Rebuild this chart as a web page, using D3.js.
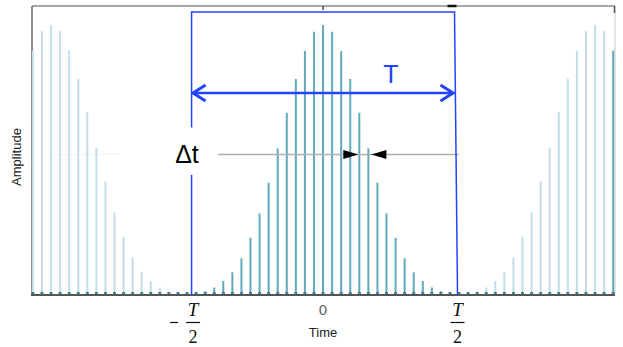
<!DOCTYPE html>
<html>
<head>
<meta charset="utf-8">
<script src="https://cdn.jsdelivr.net/npm/d3@7"></script>
<style>
  html, body { margin: 0; padding: 0; background: #fff; }
  svg { display: block; }
</style>
</head>
<body>
<svg id="chart" width="623" height="347"></svg>
<script>
// ---- data ----
const sampleIndex = d3.range(-32, 33); // stem indices n
const amplitudes = [
  0.905, 0.977, 1.000, 0.977, 0.905, 0.801, 0.677, 0.545, 0.419, 0.306, 0.216, 0.138, 0.086, 0.052, 0.028, 0.013, 0.006,   // n=-32..-16 (left alias)
  0.003,                                                                                                                   // n=-15
  0.006, 0.014, 0.028, 0.052, 0.084, 0.136, 0.212, 0.302, 0.416, 0.543, 0.675, 0.800, 0.904, 0.975,                      // n=-14..-1
  1.000,                                                                                                                   // n=0
  0.975, 0.904, 0.800, 0.675, 0.543, 0.416, 0.302, 0.212, 0.136, 0.084, 0.052, 0.028, 0.014, 0.006,                      // n=1..14
  0.003,                                                                                                                   // n=15
  0.006, 0.013, 0.028, 0.052, 0.086, 0.138, 0.216, 0.306, 0.419, 0.545, 0.677, 0.801, 0.905, 0.977, 1.000, 0.977, 0.905  // n=16..32 (right alias)
];
const stemGroup = sampleIndex.map(n => (Math.abs(n) <= 15 || n === 32) ? "main" : "alias");
const xTickLabels = [{ v: -14.5, sign: "\u2212" }, { v: 0, text: "0" }, { v: 14.5, sign: "" }];
const halfPeriod = 14.5;   // T/2 in sample units
const deltaLevel = 0.52;   // level of the Δt guide line
const arrowLevel = 0.748;  // level of the T arrow
const boxTop = 1.048;      // top of the T window

// ---- layout ----
const svg = d3.select("#chart");
const x = d3.scaleLinear().domain([-32.1, 32.2]).range([32, 615]);
const y = d3.scaleLinear().domain([0, 1]).range([295, 25]);
const frameTop = 6, base = y(0);
const mainColor = "#62a9bc", aliasColor = "#c2dee8", baseMark = "#3f8293";
const blue = "#2343ff";

const data = sampleIndex.map((n, i) => ({ n, a: amplitudes[i], g: stemGroup[i] }));

// frame
svg.append("line").attr("x1", 32).attr("x2", 615).attr("y1", frameTop).attr("y2", frameTop)
  .attr("stroke", "#8a8a8a").attr("stroke-width", 1.5);
svg.append("line").attr("x1", 32).attr("x2", 32).attr("y1", frameTop).attr("y2", base)
  .attr("stroke", "#666").attr("stroke-width", 1.5);
svg.append("line").attr("x1", 615).attr("x2", 615).attr("y1", frameTop).attr("y2", base)
  .attr("stroke", "#c8c8c8").attr("stroke-width", 1);
svg.append("line").attr("x1", 614.5).attr("x2", 614.5).attr("y1", frameTop).attr("y2", frameTop + 7)
  .attr("stroke", "#555").attr("stroke-width", 1.5);
svg.append("line").attr("x1", x(0)).attr("x2", x(0)).attr("y1", frameTop).attr("y2", frameTop + 4)
  .attr("stroke", "#444").attr("stroke-width", 1.5);
svg.append("line").attr("x1", x(halfPeriod) - 7).attr("x2", x(halfPeriod) + 2).attr("y1", frameTop).attr("y2", frameTop)
  .attr("stroke", "#111").attr("stroke-width", 2.5);

// faint guide on left
svg.append("line").attr("x1", 55).attr("x2", 120).attr("y1", y(deltaLevel)).attr("y2", y(deltaLevel))
  .attr("stroke", "#f2f2f2").attr("stroke-width", 1);

// stems
svg.append("g").selectAll("line").data(data).join("line")
  .attr("x1", d => x(d.n)).attr("x2", d => x(d.n))
  .attr("y1", base).attr("y2", d => y(d.a))
  .attr("stroke", d => d.g === "main" ? mainColor : aliasColor)
  .attr("stroke-width", 2);
svg.append("g").selectAll("rect").data(data).join("rect")
  .attr("x", d => x(d.n) - 1.5).attr("y", base - 3).attr("width", 3).attr("height", 3)
  .attr("fill", baseMark);

// baseline
svg.append("line").attr("x1", 31).attr("x2", 615).attr("y1", base).attr("y2", base)
  .attr("stroke", "#555").attr("stroke-width", 2);

// Δt guide line and arrowheads
svg.append("line").attr("x1", 218).attr("x2", x(halfPeriod) + 4)
  .attr("y1", y(deltaLevel)).attr("y2", y(deltaLevel))
  .attr("stroke", "#b0b0b0").attr("stroke-width", 1.5);
const yd = y(deltaLevel);
const tA = x(4) - 1, tB = x(5) + 3;
svg.append("path").attr("d", `M${tA - 15},${yd - 4.5}L${tA},${yd}L${tA - 15},${yd + 4.5}Z`).attr("fill", "#000");
svg.append("path").attr("d", `M${tB + 15},${yd - 4.5}L${tB},${yd}L${tB + 15},${yd + 4.5}Z`).attr("fill", "#000");
svg.append("text").attr("x", 187).attr("y", yd + 8).attr("text-anchor", "middle")
  .attr("font-family", "Liberation Sans, Arial, sans-serif").attr("font-size", 25).attr("fill", "#000")
  .text("\u0394t");

// blue T window
const xl = x(-halfPeriod), xr = x(halfPeriod);
svg.append("path")
  .attr("d", `M${xl},${y(0.62)}L${xl},${y(boxTop)}L${xr},${y(boxTop)}L${xr + 3},${base}`)
  .attr("fill", "none").attr("stroke", blue).attr("stroke-width", 1.5);
svg.append("line").attr("x1", xl).attr("x2", xl).attr("y1", y(0.445)).attr("y2", base)
  .attr("stroke", blue).attr("stroke-width", 1.5);
const ya = y(arrowLevel);
svg.append("line").attr("x1", xl + 1).attr("x2", xr - 1).attr("y1", ya).attr("y2", ya)
  .attr("stroke", blue).attr("stroke-width", 2.5);
svg.append("path").attr("d", `M${xl + 14},${ya - 8}L${xl + 1.5},${ya}L${xl + 14},${ya + 8}`)
  .attr("fill", "none").attr("stroke", blue).attr("stroke-width", 3);
svg.append("path").attr("d", `M${xr - 14},${ya - 8}L${xr - 1.5},${ya}L${xr - 14},${ya + 8}`)
  .attr("fill", "none").attr("stroke", blue).attr("stroke-width", 3);
svg.append("text").attr("x", 391).attr("y", ya - 10).attr("text-anchor", "middle")
  .attr("font-family", "Liberation Sans, Arial, sans-serif").attr("font-size", 25).attr("fill", blue)
  .text("T");

// x tick labels
const serif = "Liberation Serif, Times New Roman, serif";
xTickLabels.forEach(t => {
  if (t.text) {
    svg.append("text").attr("x", x(t.v)).attr("y", 315).attr("text-anchor", "middle")
      .attr("font-family", "DejaVu Sans, sans-serif").attr("font-size", 14).attr("fill", "#666")
      .text(t.text);
  } else {
    const cx = x(t.v) + (t.v > 0 ? 3 : 1.5);
    const g = svg.append("g");
    g.append("text").attr("x", cx).attr("y", 315.5).attr("text-anchor", "middle")
      .attr("font-family", serif).attr("font-style", "italic").attr("font-size", 19).attr("fill", "#111").text("T");
    g.append("line").attr("x1", cx - 7).attr("x2", cx + 7).attr("y1", 322.5).attr("y2", 322.5)
      .attr("stroke", "#111").attr("stroke-width", 1.2);
    g.append("text").attr("x", cx).attr("y", 343).attr("text-anchor", "middle")
      .attr("font-family", serif).attr("font-size", 18).attr("fill", "#111").text("2");
    if (t.sign) {
      g.append("line").attr("x1", cx - 23).attr("x2", cx - 15).attr("y1", 322.5).attr("y2", 322.5)
        .attr("stroke", "#111").attr("stroke-width", 1.2);
    }
  }
});

// axis titles
svg.append("text").attr("x", x(0)).attr("y", 337).attr("text-anchor", "middle")
  .attr("font-family", "Liberation Sans, Arial, sans-serif").attr("font-size", 13).attr("fill", "#222")
  .text("Time");
svg.append("text").attr("transform", `translate(21,157) rotate(-90)`).attr("text-anchor", "middle")
  .attr("font-family", "Liberation Sans, Arial, sans-serif").attr("font-size", 13).attr("fill", "#222")
  .text("Amplitude");
</script>
</body>
</html>
